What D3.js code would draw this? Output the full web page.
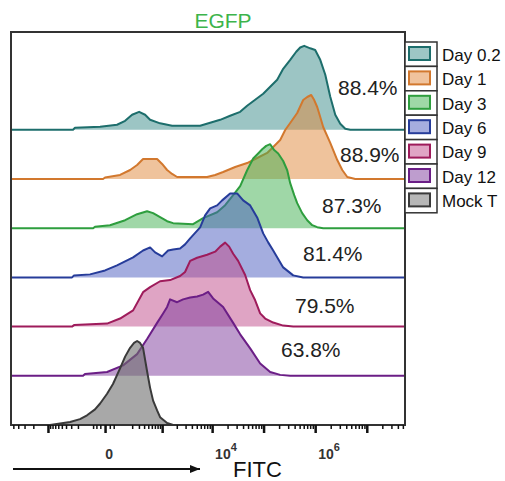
<!DOCTYPE html>
<meta charset="utf-8">
<style>
    body { margin: 0; background: #fff; }
    text { font-family: Arial, "Liberation Sans", sans-serif; }
    .hist-line { fill: none; stroke-width: 2px; stroke-linejoin: round; }
    .tick line { stroke: #111; }
</style>
<body>
<svg width="505" height="481"></svg>
<script src="https://d3js.org/d3.v7.min.js"></script>
<script>

    // sample names, top to bottom
    var samples = ["Day 0.2", "Day 1", "Day 3", "Day 6", "Day 9", "Day 12", "Mock T"];
    var percents = ["88.4%", "88.9%", "87.3%", "81.4%", "79.5%", "63.8%", ""];
    var lineColors = ["#1d6e6c", "#d2782e", "#2e9e3e", "#263c9a", "#9e1b5b", "#6b1e86", "#3a3a3a"];
    var fillColors = ["#3a8c8a", "#e0873a", "#3fb04f", "#4a5bbf", "#c04a8a", "#7d3a9c", "#6e6e6e"];

    // [FITC value, % of mode]
    var day02 = [[-5560, 0], [-270, 0], [-240, 2.4], [-21, 3.6], [60, 6], [123, 10.7], [199, 17.9], [303, 21.4],
        [422, 17.9], [549, 11.9], [905, 7.7], [1606, 4.8], [5820, 4.8], [9150, 8.3], [14340, 11.9], [22440, 16.7],
        [35150, 21.4], [48000, 28.6], [68700, 35.7], [98300, 42.9], [134300, 51.2], [183700, 59.5], [240000, 72.6],
        [328200, 83.3], [429000, 92.9], [513000, 98], [613000, 100], [802000, 97], [1.0e6, 95], [1.254e6, 83.3],
        [1.57e6, 65.5], [1.96e6, 39.3], [2.45e6, 17.9], [3.06e6, 7.1], [3.83e6, 1.2], [4.79e6, 0], [5.5e7, 0]];
    var day1 = [[-5560, 0], [-8, 0], [0, 1.8], [81, 4.8], [175, 10.7], [270, 16.7], [378, 23.8], [781, 23.8],
        [998, 17.9], [1269, 10.7], [1606, 6], [2030, 2.4], [7990, 2.4], [11460, 4.8], [16400, 8.3], [28100, 14.3],
        [48000, 19], [75100, 25], [117500, 31], [168000, 40.5], [210000, 46.4], [262700, 58.3], [328200, 66.7],
        [448600, 78.6], [586000, 94], [701400, 97.6], [838400, 100], [958000, 94], [1.095e6, 85.7], [1.254e6, 73.8],
        [1.43e6, 61.9], [1.96e6, 42.9], [2.68e6, 22.6], [3.35e6, 10.7], [4.19e6, 2.4], [5.98e6, 0], [5.5e7, 0]];
    var day3 = [[-5560, 0], [-60, 0], [-48, 1.8], [21, 3.6], [123, 9.5], [270, 16.7], [469, 20.2], [640, 17.9],
        [905, 13.1], [1269, 8.3], [1685, 6], [4230, 4.8], [6660, 11.9], [12530, 19], [17950, 27.4], [25700, 39.3],
        [35150, 50], [48000, 69], [62900, 83], [78500, 89], [94000, 94], [112400, 98], [134300, 100], [160600, 93],
        [192000, 89], [240000, 80], [287300, 69], [328200, 53.6], [392500, 39.3], [448600, 29.8], [560700, 17.9],
        [701400, 9.5], [876000, 3.6], [1.095e6, 1.2], [1.43e6, 0], [5.5e7, 0]];
    var day6 = [[-5560, 0], [-286, 0], [-254, 2.4], [-81, 3.6], [0, 8.3], [60, 14.3], [212, 23.8], [378, 32],
        [549, 35.7], [707, 29.8], [998, 25], [1330, 32], [1685, 33.3], [2330, 34.5], [2930, 39.3], [3700, 46.4],
        [5820, 59.5], [7290, 73.8], [9150, 82.1], [12530, 85.7], [15680, 91.7], [22440, 100], [30700, 100],
        [40200, 91.7], [54950, 85.7], [75100, 71.4], [98300, 52.4], [122800, 41.7], [153600, 32], [240000, 11.9],
        [375400, 2.4], [586000, 0], [5.5e7, 0]];
    var day9 = [[-5560, 0], [-286, 0], [-254, 1.8], [8, 3.6], [81, 9.6], [212, 19.3], [378, 41], [549, 47],
        [905, 54], [1460, 55.4], [2330, 60.2], [2930, 65], [3700, 78.3], [5080, 82], [7990, 85.5], [11460, 89.2],
        [14340, 95.2], [17950, 100], [21470, 95.2], [25700, 86.7], [32100, 78.3], [43900, 61.4], [54950, 43.4],
        [68700, 31.3], [85900, 15.7], [107400, 9.6], [153600, 4.8], [240000, 1.2], [375400, 0], [5.5e7, 0]];
    var day12 = [[-5560, 0], [-142, 0], [-123, 2.2], [8, 4.5], [105, 12.4], [270, 25.8], [469, 43.8], [781, 63],
        [1047, 74.2], [1269, 82], [1460, 91], [2030, 87.6], [2680, 91], [3700, 93.3], [5080, 94.4], [6660, 96.6],
        [8350, 100], [10460, 92.1], [16400, 82], [25700, 63], [35150, 49.4], [54950, 32.6], [85900, 14.6],
        [134300, 4.5], [210000, 1.1], [328200, 0], [5.5e7, 0]];
    var mockT = [[-905, 0], [-320, 3.5], [-175, 7], [-105, 11.6], [-48, 18.6], [-21, 25.6], [8, 37.2], [36, 48.8],
        [81, 67.4], [123, 81.4], [175, 91.9], [225, 97.7], [270, 100], [320, 97.7], [378, 91.9], [469, 64],
        [549, 44.2], [640, 29], [781, 17.4], [905, 9.3], [1269, 2.3], [1685, 0]];

    var histograms = [day02, day1, day3, day6, day9, day12, mockT];

    var majorTicks = [-1000, 0, 1000, 1e4, 1e5, 1e6, 1e7];
    var tickLabels = [[0, "0", ""], [1e4, "10", "4"], [1e6, "10", "6"]];

    var svg = d3.select("svg"),
        frame = {left: 11, top: 32, right: 405, bottom: 425},
        rowStep = 49.2,
        peakH = 84;

    var x = d3.scaleSymlog().constant(85)
        .domain([-5560, 5.5e7])
        .range([frame.left, frame.right]);

    function baseline(i) { return frame.bottom - (samples.length - 1 - i) * rowStep; }

    // title
    svg.append("text")
        .attr("x", 223).attr("y", 28)
        .attr("text-anchor", "middle")
        .style("font-size", "21px")
        .style("fill", "#3cb44b")
        .text("EGFP");

    var plot = svg.append("g");

    histograms.forEach(function (data, i) {
        var y = d3.scaleLinear().domain([0, 100]).range([baseline(i), baseline(i) - peakH]);

        var area = d3.area()
            .x(function (d) { return x(d[0]); })
            .y0(baseline(i))
            .y1(function (d) { return y(d[1]); });
        var line = d3.line()
            .x(function (d) { return x(d[0]); })
            .y(function (d) { return y(d[1]); });

        plot.append("path")
            .datum(data)
            .attr("d", area)
            .attr("fill", fillColors[i])
            .attr("fill-opacity", i === 6 ? 0.6 : 0.5);
        plot.append("path")
            .datum(data)
            .attr("class", "hist-line")
            .attr("d", line)
            .attr("stroke", lineColors[i]);
    });

    // percentages
    var pctX = [338, 340, 322, 303, 295, 281];
    var pctRise = [35, 17, 15, 16, 14, 19];
    percents.forEach(function (p, i) {
        if (!p) return;
        svg.append("text")
            .attr("x", pctX[i])
            .attr("y", baseline(i) - pctRise[i])
            .style("font-size", "21px")
            .style("fill", "#222")
            .text(p);
    });

    // frame
    svg.append("path")
        .attr("d", "M" + frame.left + "," + frame.bottom + "V" + frame.top + "H" + frame.right + "V" + frame.bottom + "Z")
        .attr("fill", "none")
        .attr("stroke", "#333")
        .attr("stroke-width", 2);

    // axis ticks
    var minor = [];
    [-5000, -4000, -3000, -2000].forEach(function (v) { minor.push(v); });
    for (var k = 2; k <= 9; k++) minor.push(-k * 100);
    [-60, -40, -20, 20, 40].forEach(function (v) { minor.push(v); });
    for (var e = 2; e <= 7; e++) {
        for (var m = 2; m <= 9; m++) {
            var v = m * Math.pow(10, e);
            if (v < 5.5e7) minor.push(v);
        }
    }

    var gMinor = svg.append("g")
        .attr("transform", "translate(0," + frame.bottom + ")")
        .call(d3.axisBottom(x).tickValues(minor).tickSize(4).tickFormat(""));
    gMinor.select(".domain").remove();
    gMinor.selectAll(".tick line").attr("stroke-width", 1.5);

    var gMajor = svg.append("g")
        .attr("transform", "translate(0," + frame.bottom + ")")
        .call(d3.axisBottom(x).tickValues(majorTicks).tickSize(8).tickFormat(""));
    gMajor.select(".domain").remove();
    gMajor.selectAll(".tick line").attr("stroke-width", 2.5);

    tickLabels.forEach(function (t) {
        var lbl = svg.append("text")
            .attr("x", x(t[0]) + (t[2] ? 3 : 0))
            .attr("y", 459)
            .attr("text-anchor", t[2] ? "start" : "middle")
            .style("font-size", "14px")
            .style("font-weight", "bold")
            .style("fill", "#333");
        if (t[2]) {
            lbl.append("tspan").text(t[1]);
            lbl.append("tspan").attr("dy", -8).style("font-size", "11px").text(t[2]);
        } else {
            lbl.attr("x", x(t[0]) + 4).text(t[1]);
        }
    });

    // arrow + axis title
    svg.append("defs").append("marker")
        .attr("id", "arrow")
        .attr("viewBox", "0 0 10 10")
        .attr("refX", 10).attr("refY", 5)
        .attr("markerWidth", 5).attr("markerHeight", 5)
        .attr("markerUnits", "strokeWidth")
        .attr("orient", "auto")
        .append("path")
        .attr("d", "M0,1L10,5L0,9Z")
        .attr("fill", "#111");
    svg.append("line")
        .attr("x1", 13).attr("x2", 200)
        .attr("y1", 469).attr("y2", 469)
        .attr("stroke", "#111")
        .attr("stroke-width", 2)
        .attr("marker-end", "url(#arrow)");
    svg.append("text")
        .attr("x", 233).attr("y", 477)
        .style("font-size", "22px")
        .style("fill", "#111")
        .text("FITC");

    // legend
    var legTop = 42, legRow = 24.4;
    var legend = svg.append("g");
    samples.forEach(function (s, i) {
        var yy = legTop + i * legRow;
        legend.append("rect")
            .attr("x", frame.right).attr("y", yy)
            .attr("width", 32).attr("height", legRow)
            .attr("fill", "#fff")
            .attr("stroke", "#333")
            .attr("stroke-width", 1.5);
        legend.append("rect")
            .attr("x", frame.right + 4).attr("y", yy + 5)
            .attr("width", 21).attr("height", 13)
            .attr("fill", d3.interpolateRgb("#fff", fillColors[i])(0.5))
            .attr("stroke", lineColors[i])
            .attr("stroke-width", 2);
        legend.append("text")
            .attr("x", 442).attr("y", yy + legRow / 2 + 6.5)
            .style("font-size", "17px")
            .style("fill", "#111")
            .text(s);
    });

</script>
</body>
